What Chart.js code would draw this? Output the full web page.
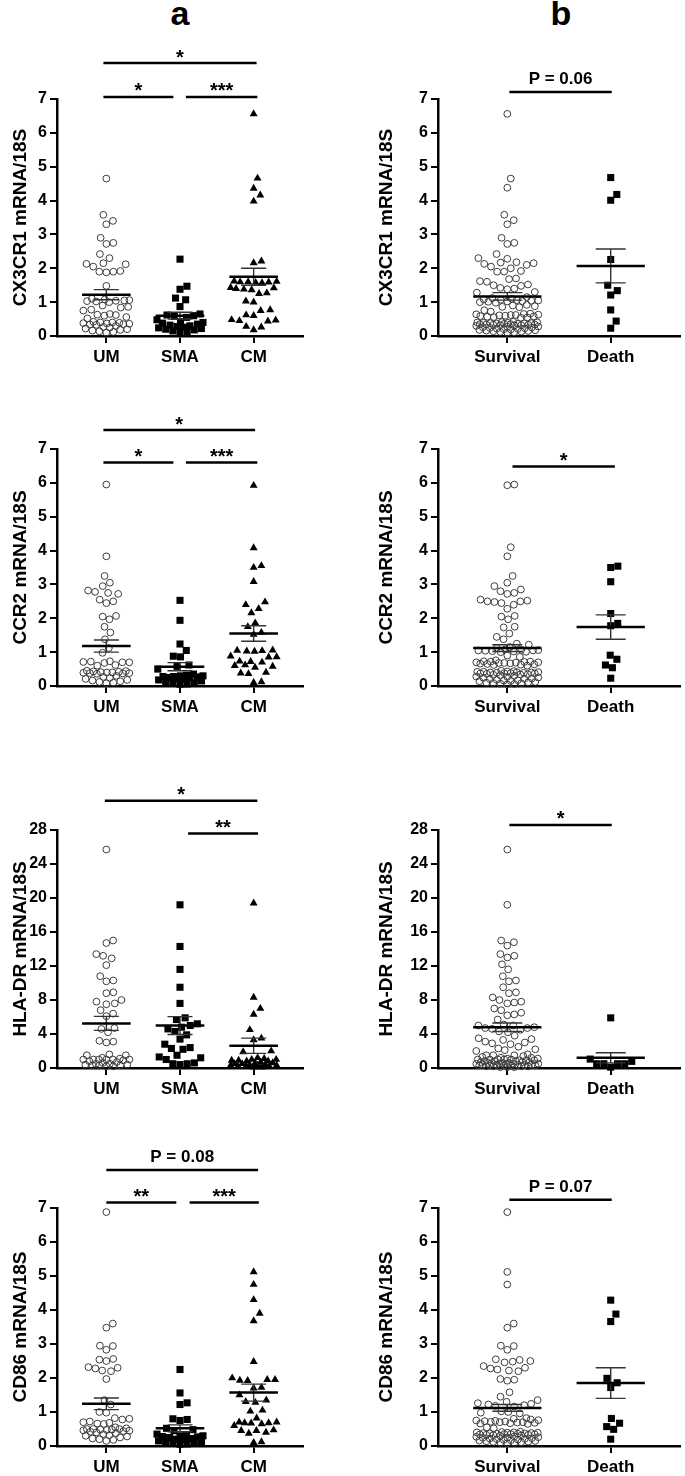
<!DOCTYPE html>
<html lang="en">
<head>
<meta charset="UTF-8">
<title>CX3CR1, CCR2, HLA-DR and CD86 mRNA</title>
<script src="https://cdn.jsdelivr.net/npm/chart.js@4.4.1/dist/chart.umd.min.js"></script>
<style>
  body { margin: 0; background: #fff; }
  #page { position: relative; width: 685px; height: 1476px; font-family: "Liberation Sans", Arial, sans-serif; }
  canvas { position: absolute; }
  .tag { position: absolute; width: 40px; text-align: center; font-weight: bold; font-size: 34px; line-height: 34px; top: -4px; }
</style>
</head>
<body>
<div id="page">
  <div class="tag" style="left:160px">a</div>
  <div class="tag" style="left:541px">b</div>
  <canvas id="a1" width="342" height="370" style="left:0;top:0"></canvas>
  <canvas id="b1" width="343" height="370" style="left:342px;top:0"></canvas>
  <canvas id="a2" width="342" height="380" style="left:0;top:370px"></canvas>
  <canvas id="b2" width="343" height="380" style="left:342px;top:370px"></canvas>
  <canvas id="a3" width="342" height="360" style="left:0;top:750px"></canvas>
  <canvas id="b3" width="343" height="360" style="left:342px;top:750px"></canvas>
  <canvas id="a4" width="342" height="366" style="left:0;top:1110px"></canvas>
  <canvas id="b4" width="343" height="366" style="left:342px;top:1110px"></canvas>
</div>
<script>
// groups
const groupsA = ['UM', 'SMA', 'CM'];
const groupsB = ['Survival', 'Death'];

// CX3CR1
const cx3cr1UM = [4.65, 3.58, 3.40, 3.30, 2.90, 2.75, 2.72, 2.42, 2.30, 2.15, 2.13, 2.12, 2.05, 1.92, 1.90, 1.90, 1.88, 1.48, 1.10, 1.08, 1.06, 1.05, 1.04, 1.03, 1.02, 1.00, 0.90, 0.86, 0.84, 0.78, 0.75, 0.65, 0.63, 0.62, 0.60, 0.56, 0.52, 0.42, 0.40, 0.40, 0.39, 0.38, 0.37, 0.36, 0.35, 0.34, 0.33, 0.30, 0.27, 0.25, 0.22, 0.20, 0.18, 0.16, 0.14, 0.12, 0.10];
const cx3cr1SMA = [2.27, 1.47, 1.38, 1.12, 1.07, 0.87, 0.65, 0.62, 0.60, 0.58, 0.55, 0.48, 0.42, 0.40, 0.38, 0.35, 0.32, 0.30, 0.28, 0.26, 0.24, 0.22, 0.20, 0.18, 0.15, 0.12, 0.10];
const cx3cr1CM = [6.56, 4.66, 4.36, 4.16, 3.98, 2.21, 2.16, 1.62, 1.61, 1.60, 1.60, 1.59, 1.58, 1.57, 1.43, 1.42, 1.40, 1.38, 1.36, 1.27, 1.25, 1.03, 1.00, 0.77, 0.75, 0.62, 0.60, 0.48, 0.47, 0.45, 0.44, 0.28, 0.26, 0.18];
const cx3cr1Survival = [6.56, 4.65, 4.38, 3.58, 3.42, 3.30, 2.90, 2.75, 2.72, 2.42, 2.30, 2.28, 2.18, 2.17, 2.15, 2.13, 2.10, 2.05, 2.00, 1.92, 1.90, 1.90, 1.70, 1.68, 1.62, 1.60, 1.52, 1.50, 1.48, 1.42, 1.40, 1.38, 1.30, 1.28, 1.15, 1.12, 1.10, 1.08, 1.07, 1.06, 1.05, 1.04, 1.03, 1.02, 1.01, 1.00, 0.98, 0.92, 0.90, 0.88, 0.86, 0.85, 0.76, 0.72, 0.66, 0.65, 0.64, 0.63, 0.62, 0.62, 0.61, 0.60, 0.59, 0.58, 0.57, 0.56, 0.55, 0.54, 0.42, 0.41, 0.40, 0.40, 0.39, 0.39, 0.38, 0.38, 0.37, 0.37, 0.36, 0.36, 0.35, 0.35, 0.34, 0.34, 0.33, 0.33, 0.32, 0.32, 0.31, 0.30, 0.28, 0.27, 0.26, 0.25, 0.24, 0.23, 0.22, 0.21, 0.20, 0.19, 0.18, 0.17, 0.16, 0.15, 0.14, 0.13, 0.12, 0.11, 0.10];
const cx3cr1Death = [4.68, 4.18, 4.01, 2.26, 1.50, 1.34, 1.21, 0.77, 0.44, 0.23];
const cx3cr1MeanA = [1.22, 0.60, 1.75], cx3cr1SemA = [0.15, 0.10, 0.25];
const cx3cr1MeanB = [1.17, 2.07], cx3cr1SemB = [0.11, 0.50];

// CCR2
const ccr2UM = [5.95, 3.83, 3.25, 3.05, 2.95, 2.82, 2.78, 2.75, 2.72, 2.55, 2.50, 2.45, 2.07, 2.05, 1.97, 1.75, 1.58, 1.38, 1.12, 0.98, 0.73, 0.72, 0.71, 0.70, 0.70, 0.68, 0.62, 0.60, 0.45, 0.44, 0.43, 0.42, 0.41, 0.40, 0.40, 0.39, 0.38, 0.38, 0.37, 0.36, 0.30, 0.27, 0.24, 0.21, 0.18, 0.16, 0.14, 0.12, 0.10, 0.08];
const ccr2SMA = [2.53, 1.94, 1.24, 1.05, 0.88, 0.86, 0.62, 0.58, 0.50, 0.35, 0.32, 0.30, 0.30, 0.28, 0.28, 0.27, 0.25, 0.25, 0.22, 0.20, 0.18, 0.15, 0.12, 0.10, 0.08, 0.06, 0.05];
const ccr2CM = [5.92, 4.08, 3.55, 3.50, 3.08, 2.48, 2.40, 2.28, 2.16, 1.86, 1.75, 1.58, 1.52, 1.06, 1.05, 1.04, 1.03, 1.02, 0.88, 0.86, 0.85, 0.73, 0.72, 0.70, 0.62, 0.60, 0.58, 0.55, 0.40, 0.38, 0.36, 0.12, 0.10];
const ccr2Survival = [5.95, 5.93, 4.10, 3.83, 3.25, 3.05, 2.95, 2.85, 2.80, 2.75, 2.72, 2.55, 2.52, 2.50, 2.50, 2.48, 2.45, 2.40, 2.28, 2.07, 2.05, 1.97, 1.75, 1.73, 1.55, 1.45, 1.38, 1.25, 1.22, 1.15, 1.12, 1.08, 1.07, 1.06, 1.05, 1.05, 1.04, 1.03, 1.02, 1.01, 1.00, 0.90, 0.86, 0.76, 0.73, 0.72, 0.72, 0.71, 0.70, 0.70, 0.69, 0.68, 0.68, 0.67, 0.66, 0.65, 0.64, 0.63, 0.62, 0.60, 0.45, 0.44, 0.43, 0.42, 0.42, 0.41, 0.41, 0.40, 0.40, 0.39, 0.39, 0.38, 0.38, 0.37, 0.37, 0.36, 0.35, 0.34, 0.33, 0.32, 0.30, 0.28, 0.27, 0.25, 0.24, 0.22, 0.21, 0.20, 0.18, 0.17, 0.16, 0.15, 0.14, 0.12, 0.11, 0.10, 0.09, 0.08, 0.07, 0.06, 0.05];
const ccr2Death = [3.54, 3.50, 3.08, 2.14, 1.85, 1.78, 0.91, 0.79, 0.62, 0.54, 0.23];
const ccr2MeanA = [1.18, 0.57, 1.55], ccr2SemA = [0.18, 0.12, 0.23];
const ccr2MeanB = [1.12, 1.74], ccr2SemB = [0.10, 0.36];

// HLA-DR
const hladrUM = [25.7, 15.0, 14.7, 13.4, 13.2, 12.9, 12.1, 10.8, 10.3, 10.2, 8.9, 8.8, 8.0, 7.8, 7.6, 7.5, 6.8, 6.4, 6.1, 4.7, 4.6, 4.2, 3.2, 3.1, 3.0, 1.6, 1.5, 1.5, 1.2, 1.1, 1.0, 1.0, 1.0, 1.0, 1.0, 1.0, 0.9, 0.8, 0.7, 0.6, 0.5, 0.5, 0.4, 0.4, 0.3, 0.3, 0.3, 0.2, 0.2];
const hladrSMA = [19.2, 14.3, 11.6, 9.5, 7.6, 5.9, 5.7, 5.2, 5.0, 4.8, 4.6, 4.3, 3.9, 3.4, 2.8, 2.4, 2.3, 2.2, 1.5, 1.3, 1.2, 1.0, 0.6, 0.5, 0.5, 0.4];
const hladrCM = [19.4, 8.3, 7.0, 6.3, 4.5, 3.5, 3.3, 2.0, 1.9, 1.2, 1.1, 1.0, 1.0, 0.9, 0.9, 0.8, 0.8, 0.7, 0.6, 0.6, 0.5, 0.5, 0.4, 0.4, 0.3, 0.3, 0.3, 0.2, 0.2, 0.2, 0.1, 0.1];
const hladrSurvival = [25.7, 19.2, 15.0, 14.8, 14.4, 13.4, 13.2, 13.0, 12.2, 11.6, 10.8, 10.3, 10.2, 9.5, 8.9, 8.8, 8.3, 8.0, 7.8, 7.7, 7.6, 7.0, 6.8, 6.5, 6.3, 6.2, 5.7, 5.1, 5.0, 5.0, 4.8, 4.7, 4.7, 4.6, 4.5, 4.3, 4.2, 3.8, 3.5, 3.4, 3.3, 3.1, 3.0, 2.9, 2.8, 2.5, 2.3, 2.2, 2.1, 2.0, 1.6, 1.5, 1.5, 1.5, 1.4, 1.3, 1.2, 1.2, 1.1, 1.1, 1.0, 1.0, 1.0, 1.0, 1.0, 0.9, 0.9, 0.9, 0.8, 0.8, 0.8, 0.7, 0.7, 0.7, 0.6, 0.6, 0.6, 0.6, 0.5, 0.5, 0.5, 0.5, 0.5, 0.4, 0.4, 0.4, 0.4, 0.4, 0.3, 0.3, 0.3, 0.3, 0.3, 0.2, 0.2, 0.2, 0.2, 0.1, 0.1, 0.1];
const hladrDeath = [5.9, 1.05, 0.78, 0.5, 0.5, 0.5, 0.5, 0.1];
const hladrMeanA = [5.25, 5.0, 2.62], hladrSemA = [0.82, 1.05, 0.9];
const hladrMeanB = [4.8, 1.2], hladrSemB = [0.5, 0.6];

// CD86
const cd86UM = [6.88, 3.60, 3.48, 2.95, 2.94, 2.83, 2.56, 2.54, 2.50, 2.32, 2.30, 2.28, 2.22, 2.20, 1.97, 1.35, 1.22, 1.00, 0.98, 0.82, 0.80, 0.78, 0.72, 0.70, 0.68, 0.66, 0.65, 0.55, 0.52, 0.50, 0.50, 0.50, 0.48, 0.48, 0.47, 0.46, 0.45, 0.44, 0.42, 0.40, 0.38, 0.35, 0.32, 0.30, 0.28, 0.25, 0.22, 0.20, 0.18, 0.15];
const cd86SMA = [2.25, 1.56, 1.27, 1.22, 0.80, 0.78, 0.75, 0.52, 0.48, 0.45, 0.35, 0.32, 0.30, 0.30, 0.28, 0.27, 0.25, 0.22, 0.20, 0.18, 0.15, 0.13, 0.10, 0.10, 0.08, 0.06, 0.05];
const cd86CM = [5.12, 4.75, 4.30, 3.90, 3.68, 2.48, 2.00, 1.95, 1.93, 1.92, 1.95, 1.72, 1.70, 1.50, 1.35, 1.30, 1.28, 1.05, 1.02, 0.82, 0.70, 0.68, 0.67, 0.65, 0.68, 0.70, 0.60, 0.47, 0.45, 0.45, 0.40, 0.37, 0.12, 0.10];
const cd86Survival = [6.88, 5.12, 4.75, 3.60, 3.48, 2.95, 2.94, 2.83, 2.55, 2.53, 2.50, 2.48, 2.46, 2.35, 2.30, 2.28, 2.25, 2.22, 2.20, 1.97, 1.95, 1.92, 1.58, 1.45, 1.35, 1.30, 1.26, 1.24, 1.22, 1.20, 1.18, 1.16, 1.02, 1.00, 0.98, 0.96, 0.82, 0.80, 0.78, 0.76, 0.75, 0.74, 0.73, 0.72, 0.71, 0.70, 0.70, 0.69, 0.68, 0.67, 0.66, 0.65, 0.55, 0.52, 0.42, 0.41, 0.40, 0.40, 0.39, 0.39, 0.38, 0.38, 0.37, 0.37, 0.36, 0.36, 0.35, 0.35, 0.34, 0.34, 0.33, 0.33, 0.32, 0.31, 0.30, 0.28, 0.27, 0.26, 0.25, 0.24, 0.23, 0.22, 0.21, 0.20, 0.19, 0.18, 0.17, 0.16, 0.15, 0.14, 0.13, 0.12, 0.11, 0.10, 0.09, 0.08];
const cd86Death = [4.29, 3.88, 3.66, 1.99, 1.86, 1.72, 0.81, 0.67, 0.57, 0.49, 0.20];
const cd86MeanA = [1.24, 0.52, 1.57], cd86SemA = [0.17, 0.10, 0.25];
const cd86MeanB = [1.12, 1.85], cd86SemB = [0.10, 0.45];

// significance brackets: [from x, to x, level, label] in axis units
const cx3cr1SigA = [[0.96, 3.04, 8.06, '*'], [0.96, 1.91, 7.06, '*'], [2.08, 3.05, 7.06, '***']];
const cx3cr1SigB = [[1.02, 2.01, 7.21, 'P = 0.06']];
const ccr2SigA = [[0.96, 3.02, 7.56, '*'], [0.96, 1.91, 6.60, '*'], [2.08, 3.05, 6.60, '***']];
const ccr2SigB = [[1.05, 2.04, 6.48, '*']];
const hladrSigA = [[0.98, 3.05, 31.45, '*'], [2.11, 3.06, 27.6, '**']];
const hladrSigB = [[1.02, 2.01, 28.6, '*']];
const cd86SigA = [[1.00, 3.06, 8.12, 'P = 0.08'], [1.00, 1.95, 7.16, '**'], [2.13, 3.07, 7.16, '***']];
const cd86SigB = [[1.02, 2.01, 7.24, 'P = 0.07']];

const FONT = '"Liberation Sans", Arial, sans-serif';

const COL = {
  a: { axis: 57, right: 39, xMin: 0.33, xMax: 3.67, titlePad: 9, spread: 23, marks: ['circle', 'rect', 'triangle'] },
  b: { axis: 96, right: 1, xMin: 0.33, xMax: 2.67, titlePad: 33, spread: 31, marks: ['circle', 'rect'] }
};
const ROW = [
  { height: 370, plotTop: 99, plotBottom: 336 },
  { height: 380, plotTop: 79, plotBottom: 316 },
  { height: 360, plotTop: 80, plotBottom: 318 },
  { height: 366, plotTop: 98, plotBottom: 336 }
];

const MARKERS = {
  circle: { pointStyle: 'circle', pointRadius: 3.4, backgroundColor: 'rgba(255,255,255,0)', borderColor: '#3c3c3c', borderWidth: 1, diam: 7 },
  rect: { pointStyle: 'rect', pointRadius: 5, backgroundColor: '#000', borderColor: '#000', borderWidth: 0, diam: 7.2 },
  triangle: { pointStyle: 'triangle', pointRadius: 4.6, backgroundColor: '#000', borderColor: '#000', borderWidth: 0, diam: 7.8 }
};
// points closer than this (vertically, relative to the symbol) still get pushed sideways
const STRETCH = 1.5;

const panels = [
  { id: 'a1', col: 'a', row: 0, title: 'CX3CR1 mRNA/18S', groups: groupsA, series: [cx3cr1UM, cx3cr1SMA, cx3cr1CM], mean: cx3cr1MeanA, sem: cx3cr1SemA, sig: cx3cr1SigA, yMax: 7, yStep: 1 },
  { id: 'b1', col: 'b', row: 0, title: 'CX3CR1 mRNA/18S', groups: groupsB, series: [cx3cr1Survival, cx3cr1Death], mean: cx3cr1MeanB, sem: cx3cr1SemB, sig: cx3cr1SigB, yMax: 7, yStep: 1 },
  { id: 'a2', col: 'a', row: 1, title: 'CCR2 mRNA/18S', groups: groupsA, series: [ccr2UM, ccr2SMA, ccr2CM], mean: ccr2MeanA, sem: ccr2SemA, sig: ccr2SigA, yMax: 7, yStep: 1 },
  { id: 'b2', col: 'b', row: 1, title: 'CCR2 mRNA/18S', groups: groupsB, series: [ccr2Survival, ccr2Death], mean: ccr2MeanB, sem: ccr2SemB, sig: ccr2SigB, yMax: 7, yStep: 1 },
  { id: 'a3', col: 'a', row: 2, title: 'HLA-DR mRNA/18S', groups: groupsA, series: [hladrUM, hladrSMA, hladrCM], mean: hladrMeanA, sem: hladrSemA, sig: hladrSigA, yMax: 28, yStep: 4 },
  { id: 'b3', col: 'b', row: 2, title: 'HLA-DR mRNA/18S', groups: groupsB, series: [hladrSurvival, hladrDeath], mean: hladrMeanB, sem: hladrSemB, sig: hladrSigB, yMax: 28, yStep: 4 },
  { id: 'a4', col: 'a', row: 3, title: 'CD86 mRNA/18S', groups: groupsA, series: [cd86UM, cd86SMA, cd86CM], mean: cd86MeanA, sem: cd86SemA, sig: cd86SigA, yMax: 7, yStep: 1 },
  { id: 'b4', col: 'b', row: 3, title: 'CD86 mRNA/18S', groups: groupsB, series: [cd86Survival, cd86Death], mean: cd86MeanB, sem: cd86SemB, sig: cd86SigB, yMax: 7, yStep: 1 }
];

// beeswarm offsets (px) for a column of y pixels, lowest values placed first
function swarm(ys, d, limit) {
  const order = ys.map((y, i) => i).sort((a, b) => ys[b] - ys[a]);
  const placed = [];
  const out = new Array(ys.length);
  for (const i of order) {
    const y = ys[i] / STRETCH;
    const near = placed.filter(p => Math.abs(p.y - y) < d);
    let cands = [0];
    near.forEach(p => {
      const dx = Math.sqrt(d * d - (p.y - y) * (p.y - y));
      cands.push(p.x + dx, p.x - dx);
    });
    cands = cands.filter(c => Math.abs(c) <= limit + 0.01).sort((a, b) => Math.abs(a) - Math.abs(b));
    let best = cands.find(c => near.every(p => (p.x - c) ** 2 + (p.y - y) ** 2 >= d * d - 0.01));
    if (best === undefined) {
      let score = -1;
      for (let c = -limit; c <= limit; c += 0.5) {
        const m = Math.min(...near.map(p => (p.x - c) ** 2 + (p.y - y) ** 2));
        if (m > score) { score = m; best = c; }
      }
    }
    placed.push({ x: best, y });
    out[i] = best;
  }
  return out;
}

const statsPlugin = {
  id: 'stats',
  afterDatasetsDraw(chart) {
    const p = chart.$panel;
    if (!p) return;
    const { ctx } = chart;
    const x = chart.scales.x, y = chart.scales.y;
    const meanW = 0.33, capW = p.col === 'a' ? 0.17 : 0.145;
    ctx.save();
    ctx.lineCap = 'butt';
    p.mean.forEach((m, i) => {
      const c = i + 1, s = p.sem[i];
      ctx.strokeStyle = '#333';
      ctx.lineWidth = 1.4;
      ctx.beginPath();
      ctx.moveTo(x.getPixelForValue(c), y.getPixelForValue(m - s));
      ctx.lineTo(x.getPixelForValue(c), y.getPixelForValue(m + s));
      [m - s, m + s].forEach(v => {
        ctx.moveTo(x.getPixelForValue(c - capW), y.getPixelForValue(v));
        ctx.lineTo(x.getPixelForValue(c + capW), y.getPixelForValue(v));
      });
      ctx.stroke();
      ctx.strokeStyle = '#000';
      ctx.lineWidth = 2.5;
      ctx.beginPath();
      ctx.moveTo(x.getPixelForValue(c - meanW), y.getPixelForValue(m));
      ctx.lineTo(x.getPixelForValue(c + meanW), y.getPixelForValue(m));
      ctx.stroke();
    });
    p.sig.forEach(([x1, x2, level, label]) => {
      const py = y.getPixelForValue(level);
      ctx.strokeStyle = '#000';
      ctx.lineWidth = 2.5;
      ctx.beginPath();
      ctx.moveTo(x.getPixelForValue(x1), py);
      ctx.lineTo(x.getPixelForValue(x2), py);
      ctx.stroke();
      const stars = /^\*+$/.test(label);
      ctx.fillStyle = '#000';
      ctx.textAlign = 'center';
      ctx.textBaseline = 'alphabetic';
      ctx.font = stars ? 'bold 20px ' + FONT : 'bold 17px ' + FONT;
      const cx = x.getPixelForValue((x1 + x2) / 2);
      ctx.fillText(label, cx, stars ? py + 0.5 : py - 8);
    });
    ctx.restore();
  }
};

function buildChart(p) {
  const col = COL[p.col], row = ROW[p.row];
  const axisStyle = {
    grid: { drawOnChartArea: false, drawTicks: true, tickLength: 7, color: '#000', lineWidth: 2 },
    border: { display: true, color: '#000', width: 2.5 }
  };
  const datasets = p.series.map((vals, i) => {
    const mk = MARKERS[col.marks[i]];
    return {
      label: p.groups[i],
      data: vals.map(v => ({ x: i + 1, y: v })),
      pointStyle: mk.pointStyle,
      pointRadius: mk.pointRadius,
      backgroundColor: mk.backgroundColor,
      borderColor: mk.borderColor,
      borderWidth: mk.borderWidth,
      clip: false
    };
  });
  const chart = new Chart(document.getElementById(p.id), {
    type: 'scatter',
    data: { datasets },
    options: {
      responsive: false,
      animation: false,
      layout: { padding: { left: 0, right: col.right, top: row.plotTop, bottom: row.height - row.plotBottom - 30 } },
      plugins: { legend: { display: false }, tooltip: { enabled: false } },
      scales: {
        x: {
          type: 'linear',
          min: col.xMin,
          max: col.xMax,
          afterBuildTicks: s => { s.ticks = p.groups.map((g, i) => ({ value: i + 1 })); },
          afterFit: s => { s.height = 30; },
          ticks: {
            autoSkip: false, maxRotation: 0, padding: 4, color: '#000',
            font: { family: FONT, size: 17, weight: 'bold' },
            callback: v => p.groups[Math.round(v) - 1]
          },
          ...axisStyle
        },
        y: {
          min: 0,
          max: p.yMax,
          afterFit: s => { s.width = col.axis; },
          ticks: { stepSize: p.yStep, padding: 3, color: '#000', font: { family: FONT, size: 16, weight: 'bold' } },
          title: {
            display: true, text: p.title, color: '#000',
            font: { family: FONT, size: 19, weight: 'bold' },
            padding: { top: col.titlePad, bottom: 0 }
          },
          ...axisStyle
        }
      }
    },
    plugins: [statsPlugin]
  });
  chart.$panel = p;

  // spread the points of each group sideways like a dot plot
  const xs = chart.scales.x, ys = chart.scales.y;
  const ppu = xs.getPixelForValue(2) - xs.getPixelForValue(1);
  chart.data.datasets.forEach((ds, i) => {
    const vals = p.series[i];
    const off = swarm(vals.map(v => ys.getPixelForValue(v)), MARKERS[col.marks[i]].diam, col.spread);
    ds.data = vals.map((v, k) => ({ x: i + 1 + off[k] / ppu, y: v }));
  });
  chart.update('none');
}

panels.forEach(buildChart);
</script>
</body>
</html>
